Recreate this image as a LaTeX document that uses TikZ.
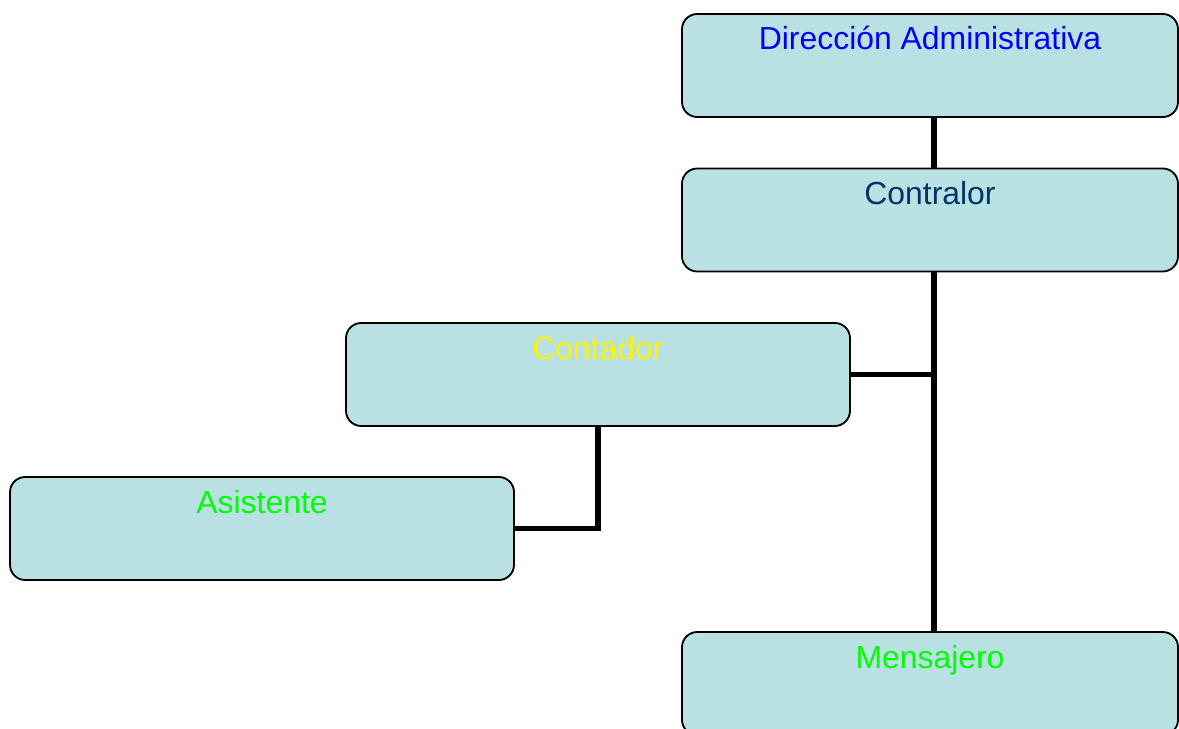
\documentclass[tikz,border=0pt]{standalone}
\usepackage{fontspec}
\setmainfont{Liberation Sans}
\usetikzlibrary{positioning}

\definecolor{boxfill}{HTML}{B9E0E3}
\definecolor{navytext}{HTML}{003366}

\begin{document}
\begin{tikzpicture}[
    unit/.style={rectangle, rounded corners=0.38cm, minimum width=12.4cm, inner ysep=0pt, text height=0.9cm, text depth=1.675cm, text centered, draw=black, line width=1.3pt, fill=boxfill, font=\fontsize{22.7}{26}\selectfont},
    wideunit/.style={unit, minimum width=12.6cm},
    link/.style={line width=4.2pt}
]
\useasboundingbox (0,0) rectangle (29.475,-18.225);

% Top of the chart
\node[unit, text=blue] (direccion) at (23.25,-1.6375) {Dirección Administrativa};
\node[unit, text=navytext] (contralor) at (23.25,-5.5) {Contralor};

% Left branch
\node[wideunit, text=yellow] (contador) at (14.95,-9.3625) {Contador};
\node[wideunit, text=green] (asistente) at (6.55,-13.2125) {Asistente};

% Bottom
\node[unit, text=green] (mensajero) at (23.25,-17.0875) {Mensajero};

% Connectors
\draw[link] ([xshift=0.1cm]direccion.south) -- ([xshift=0.1cm]contralor.north);
\draw[link] ([xshift=0.1cm]contralor.south) -- ([xshift=0.1cm]mensajero.north);
\draw[link] (contador.east) -- ([xshift=0.1cm]contador.east -| contralor.south);
\draw[link] (contador.south) |- (asistente.east);

\end{tikzpicture}
\end{document}
